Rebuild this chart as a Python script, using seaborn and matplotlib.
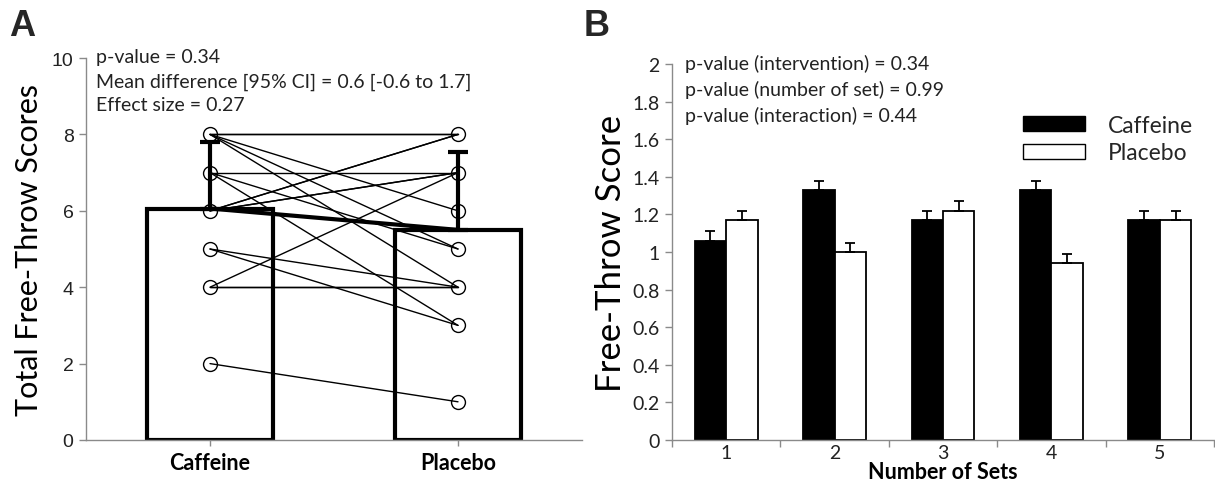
import numpy as np
import pandas as pd
import seaborn as sns
import matplotlib
matplotlib.use("Agg")
import matplotlib.pyplot as plt
from matplotlib.patches import Patch

# ---------------- data ----------------
# Panel A: paired individual totals (caffeine -> placebo)
caffeine_scores = [8, 8, 8, 8, 8, 7, 7, 7, 6, 6, 6, 6, 5, 5, 4, 4, 4, 2]
placebo_scores  = [8, 6, 5, 4, 8, 7, 5, 3, 8, 7, 7, 8, 4, 3, 4, 7, 4, 1]
conditions = ["Caffeine", "Placebo"]
condition_means = [6.06, 5.5]
condition_sd = [1.75, 2.05]
annot_a = ["p-value = 0.34",
           "Mean difference [95% CI] = 0.6 [-0.6 to 1.7]",
           "Effect size = 0.27"]

# Panel B: per-set means with SE
sets = ["1", "2", "3", "4", "5"]
caffeine_set = [1.06, 1.33, 1.17, 1.33, 1.17]
placebo_set  = [1.17, 1.00, 1.22, 0.94, 1.17]
caffeine_se  = [0.05, 0.05, 0.05, 0.05, 0.05]
placebo_se   = [0.05, 0.05, 0.05, 0.05, 0.05]
annot_b = ["p-value (intervention) = 0.34",
           "p-value (number of set) = 0.99",
           "p-value (interaction) = 0.44"]

# ---------------- style ----------------
sns.set_theme(style="white")
plt.rcParams["font.family"] = ["Lato", "DejaVu Sans"]
W, H = 1215, 485
fig = plt.figure(figsize=(W / 100, H / 100), dpi=100)

def ax_rect(l, r, t, b):
    return [l / W, (H - b) / H, (r - l) / W, (b - t) / H]

axA = fig.add_axes(ax_rect(86, 582, 59, 441))
axB = fig.add_axes(ax_rect(672, 1214, 65, 441))

gray = "#8a8a8a"
txt = "#222222"

# ---------------- Panel A ----------------
dfA = pd.DataFrame({"cond": conditions, "mean": condition_means})
sns.barplot(data=dfA, x="cond", y="mean", ax=axA, color="white",
            edgecolor="black", linewidth=3.0, width=0.51, errorbar=None,
            zorder=1)
for i, (m, s) in enumerate(zip(condition_means, condition_sd)):
    axA.errorbar([i], [m], yerr=[[0], [s]], fmt="none", ecolor="black",
                 elinewidth=3.0, capsize=7, capthick=3.0, zorder=4)
for c, p in zip(caffeine_scores, placebo_scores):
    axA.plot([0, 1], [c, p], color="black", lw=1.0, zorder=3)
axA.plot([0, 1], condition_means, color="black", lw=3.0, zorder=4)
uc = np.unique(caffeine_scores)
up = np.unique(placebo_scores)
axA.plot(np.zeros(len(uc)), uc, ls="none", marker="o",
         ms=10, mfc="none", mec="black", mew=1.0, zorder=5)
axA.plot(np.ones(len(up)), up, ls="none", marker="o",
         ms=10, mfc="none", mec="black", mew=1.0, zorder=5)

axA.set_xlim(-0.5, 1.5)
axA.set_ylim(0, 10)
axA.set_yticks([0, 2, 4, 6, 8, 10])
axA.set_yticklabels(["0", "2", "4", "6", "8", "10"], family=["Liberation Sans", "DejaVu Sans"],
                    fontsize=14, color=txt)
axA.set_xticks([0, 1])
axA.set_xticklabels(conditions, fontsize=15.5, fontweight="bold", color="black")
axA.set_xlabel("")
axA.set_ylabel("Total Free-Throw Scores", fontsize=22, color="black", labelpad=6)
for sp in ["top", "right"]:
    axA.spines[sp].set_visible(False)
for sp in ["left", "bottom"]:
    axA.spines[sp].set_color(gray)
    axA.spines[sp].set_linewidth(1.0)
axA.tick_params(axis="y", which="major", direction="out", length=5, width=1,
                color=gray, left=True, pad=4)
axA.tick_params(axis="x", which="major", direction="out", length=4, width=1,
                color=gray, bottom=True, pad=5)
for k, s in enumerate(annot_a):
    axA.text(0.02, 1.003 - 0.063 * k, s, transform=axA.transAxes, fontsize=14,
             color=txt, va="center", ha="left")

# ---------------- Panel B ----------------
dfB = pd.DataFrame({
    "set": sets * 2,
    "score": caffeine_set + placebo_set,
    "cond": ["Caffeine"] * len(sets) + ["Placebo"] * len(sets),
})
sns.barplot(data=dfB, x="set", y="score", hue="cond", ax=axB,
            palette={"Caffeine": "black", "Placebo": "white"},
            edgecolor="black", linewidth=1.3, width=0.58, errorbar=None,
            legend=False, zorder=2)
off = 0.58 / 4
xs = np.arange(len(sets))
axB.errorbar(xs - off, caffeine_set, yerr=[np.zeros(len(sets)), caffeine_se],
             fmt="none", ecolor="black", elinewidth=1.3, capsize=3.5,
             capthick=1.3, zorder=3)
axB.errorbar(xs + off, placebo_set, yerr=[np.zeros(len(sets)), placebo_se],
             fmt="none", ecolor="black", elinewidth=1.3, capsize=3.5,
             capthick=1.3, zorder=3)

axB.set_xlim(-0.5, len(sets) - 0.5)
axB.set_ylim(0, 2)
yt = np.round(np.arange(0, 2.01, 0.2), 1)
axB.set_yticks(yt)
axB.set_yticklabels([("%g" % v) for v in yt], fontsize=14, color=txt)
axB.set_xticks(xs)
axB.set_xticklabels(sets, fontsize=14, color=txt)
axB.set_xticks(np.arange(-0.5, len(sets), 1.0), minor=True)
axB.tick_params(axis="x", which="major", length=0, pad=3)
axB.tick_params(axis="x", which="minor", direction="out", length=5, width=1,
                color=gray, bottom=True)
axB.tick_params(axis="y", which="major", direction="out", length=5, width=1,
                color=gray, left=True, pad=4)
axB.set_xlabel("Number of Sets", fontsize=15.5, fontweight="bold", color="black",
               labelpad=0)
axB.set_ylabel("Free-Throw Score", fontsize=25, color="black", labelpad=4)
for sp in ["top", "right"]:
    axB.spines[sp].set_visible(False)
for sp in ["left", "bottom"]:
    axB.spines[sp].set_color(gray)
    axB.spines[sp].set_linewidth(1.0)
for k, s in enumerate(annot_b):
    axB.text(0.024, 1.003 - 0.069 * k, s, transform=axB.transAxes, fontsize=14,
             color=txt, va="center", ha="left")

handles = [Patch(facecolor="black", edgecolor="black", label="Caffeine"),
           Patch(facecolor="white", edgecolor="black", label="Placebo")]
axB.legend(handles=handles, loc="upper left", bbox_to_anchor=(0.63, 0.89),
           frameon=False, fontsize=16.5, handlelength=2.7, handleheight=0.65,
           handletextpad=1.0, labelspacing=0.3, borderaxespad=0)

# panel letters
fig.text(22 / W, 1 - 26 / H, "A", fontsize=26, fontweight="bold", ha="center",
         va="center", family=["Liberation Sans", "DejaVu Sans"])
fig.text(597 / W, 1 - 26 / H, "B", fontsize=26, fontweight="bold", ha="center",
         va="center", family=["Liberation Sans", "DejaVu Sans"])

fig.savefig("out.png", dpi=100)
